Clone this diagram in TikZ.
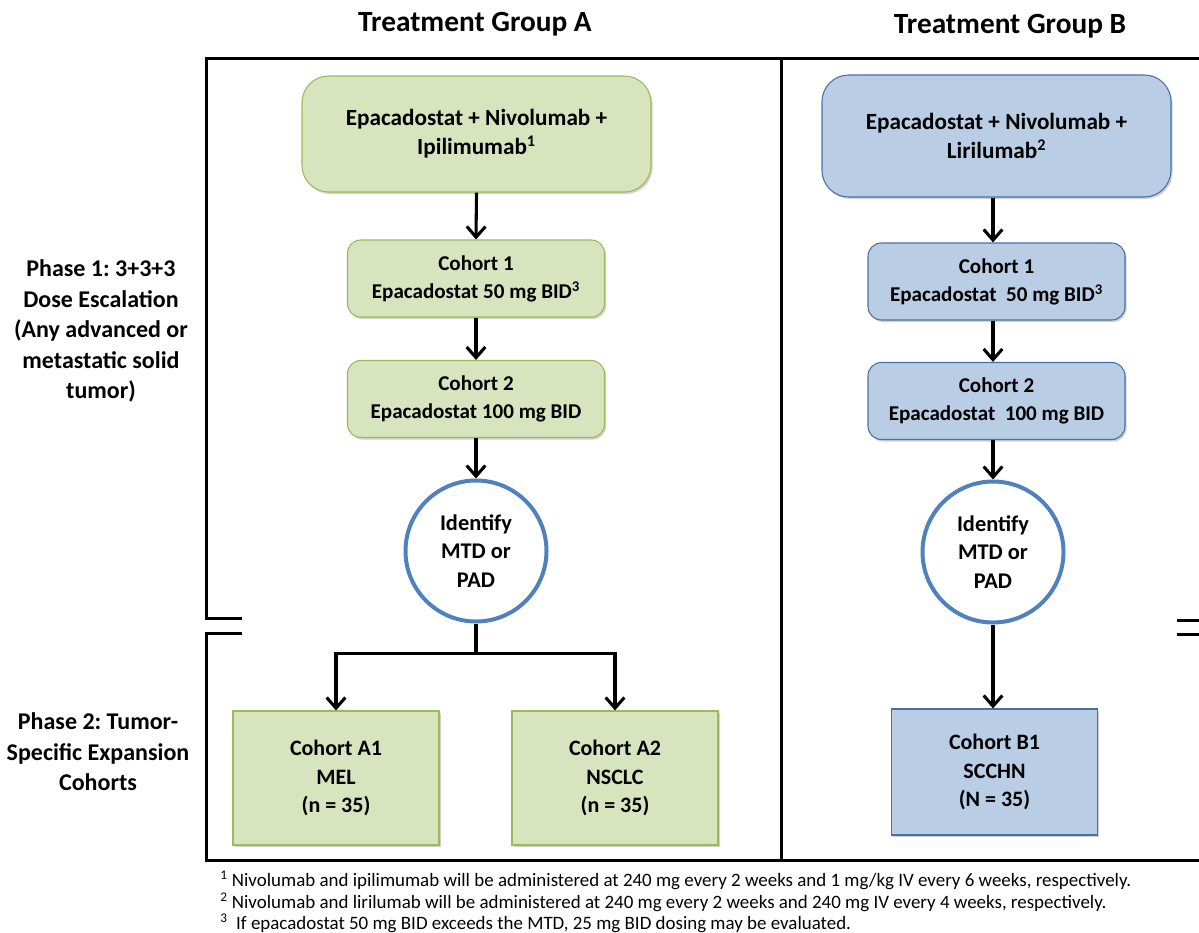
\documentclass[tikz,border=0pt]{standalone}
\usepackage{fontspec}
\setmainfont{Carlito}
\usetikzlibrary{arrows.meta,shadows}
\frenchspacing

\definecolor{grfill}{HTML}{D7E4BD}
\definecolor{grline}{HTML}{9BBB59}
\definecolor{blfill}{HTML}{B9CDE5}
\definecolor{blline}{HTML}{4A6FA5}
\definecolor{ringblue}{HTML}{4F81BD}

\tikzset{
  frame/.style={line width=2.25pt, line cap=rect},
  flow/.style={line width=2.3pt, -{Straight Barb[length=8pt,width=14pt,line width=2.3pt]}},
  plain/.style={line width=2.3pt},
  boxshadow/.style={drop shadow={shadow xshift=1.2pt, shadow yshift=-1.5pt, opacity=0.3, fill=black!60}},
  basebox/.style={rectangle, align=center, font=\bfseries, line width=0.8pt, boxshadow},
  greenbox/.style={basebox, fill=grfill, draw=grline},
  bluebox/.style={basebox, fill=blfill, draw=blline},
  drugbox/.style={rounded corners=20pt, minimum width=349*0.75pt,
    font=\bfseries\fontsize{17.4}{22}\selectfont},
  cohortbox/.style={rounded corners=10pt, minimum width=257*0.75pt, minimum height=77*0.75pt,
    font=\bfseries\fontsize{15.8}{21}\selectfont},
  expbox/.style={minimum width=206*0.75pt,
    font=\bfseries\fontsize{16.5}{21.5}\selectfont},
  ring/.style={circle, draw=ringblue, line width=3pt, fill=white, minimum size=141*0.75pt,
    align=center, inner sep=0pt, font=\bfseries\fontsize{16.8}{21.5}\selectfont},
  heading/.style={font=\bfseries\fontsize{22}{26}\selectfont},
  sidelabel/.style={align=center, font=\bfseries\fontsize{18}{22.9}\selectfont},
  note/.style={anchor=west, inner sep=0pt, font=\fontsize{14.2}{16}\selectfont}
}

\begin{document}
\begin{tikzpicture}[x=0.75pt, y=-0.75pt]
\useasboundingbox (0,0) rectangle (1199,932);

% column headings
\node[heading] (headA) at (475,24) {Treatment Group A};
\node[heading] (headB) at (1010,26) {Treatment Group B};

% phase labels
\node[sidelabel] (phase1) at (101,331) {Phase 1: 3+3+3\\Dose Escalation\\(Any advanced or\\metastatic solid\\tumor)};
\node[sidelabel] (phase2) at (98,752) {Phase 2: Tumor-\\Specific Expansion\\Cohorts};

% outer frame with the phase break
\draw[frame] (240,618) -- (206,618) -- (206,58) -- (1199,58);
\draw[frame] (240,633) -- (206,633) -- (206,860) -- (1199,860);
\draw[frame] (781,58) -- (781,860);
\draw[frame] (1178,620) -- (1199,620);
\draw[frame] (1178,634) -- (1199,634);

% group A
\node[greenbox, drugbox, minimum height=116*0.75pt] (drugA) at (476.5,134)
  {Epacadostat + Nivolumab +\\Ipilimumab\textsuperscript{1}};
\node[greenbox, cohortbox] (a1) at (476,278.5)
  {Cohort 1\\Epacadostat 50 mg BID\textsuperscript{3}};
\node[greenbox, cohortbox] (a2) at (476,399)
  {Cohort 2\\Epacadostat 100 mg BID};
\node[ring] (mtdA) at (476,551) {Identify\\MTD or\\PAD};
\node[greenbox, expbox, minimum height=134*0.75pt] (expA1) at (336,778)
  {Cohort A1\\MEL\\(n = 35)};
\node[greenbox, expbox, minimum height=134*0.75pt] (expA2) at (615,778)
  {Cohort A2\\NSCLC\\(n = 35)};

\draw[flow] (drugA.south) -- (a1.north);
\draw[flow] (a1.south) -- (a2.north);
\draw[flow] (a2.south) -- (mtdA.north);
\draw[plain] (mtdA.south) -- ++(0,30) coordinate (split);
\draw[flow] (split) -| (expA1.north);
\draw[flow] (split) -| (expA2.north);

% group B
\node[bluebox, drugbox, minimum height=122*0.75pt] (drugB) at (996.5,136)
  {Epacadostat + Nivolumab +\\Lirilumab\textsuperscript{2}};
\node[bluebox, cohortbox] (b1) at (996.5,281.5)
  {Cohort 1\\Epacadostat\ \ 50 mg BID\textsuperscript{3}};
\node[bluebox, cohortbox] (b2) at (996.5,401)
  {Cohort 2\\Epacadostat\ \ 100 mg BID};
\node[ring] (mtdB) at (993,552) {Identify\\MTD or\\PAD};
\node[bluebox, expbox, minimum height=126*0.75pt] (expB1) at (994.5,772)
  {Cohort B1\\SCCHN\\(N = 35)};

\draw[flow] (drugB.south -| mtdB.north) -- (b1.north -| mtdB.north);
\draw[flow] (b1.south -| mtdB.north) -- (b2.north -| mtdB.north);
\draw[flow] (b2.south -| mtdB.north) -- (mtdB.north);
\draw[flow] (mtdB.south) -- (expB1.north -| mtdB.south);

% footnotes
\node[note] (fn1) at (220,880) {\textsuperscript{1} Nivolumab and ipilimumab will be administered at 240 mg every 2 weeks and 1 mg/kg IV every 6 weeks, respectively.};
\node[note] (fn2) at (220,902) {\textsuperscript{2} Nivolumab and lirilumab will be administered at 240 mg every 2 weeks and 240 mg IV every 4 weeks, respectively.};
\node[note] (fn3) at (220,923) {\textsuperscript{3}\ \ If epacadostat 50 mg BID exceeds the MTD, 25 mg BID dosing may be evaluated.};
\end{tikzpicture}
\end{document}
